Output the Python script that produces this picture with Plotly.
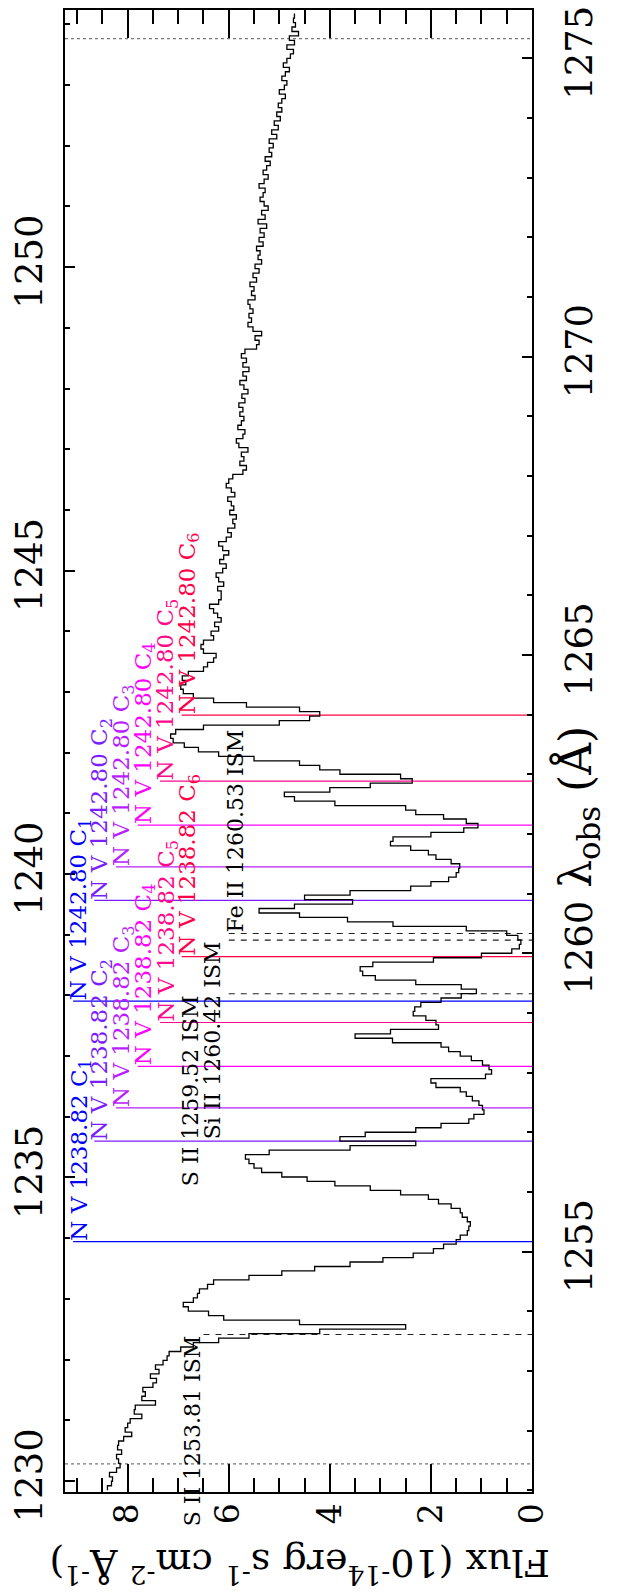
import numpy as np
import plotly.graph_objects as go

# ---------------- data ----------------
lam_start = 1251.0      # first bin edge (observed wavelength, A)
bin_width = 0.075       # A
flux = [
    8.40, 8.32, 8.30, 8.36, 8.22, 8.15, 8.18, 8.22, 8.12, 8.20,
    8.18, 8.08, 7.92, 8.05, 8.00, 7.95, 7.72, 7.87, 7.85, 7.45,
    7.72, 7.65, 7.70, 7.50, 7.43, 7.55, 7.38, 7.45, 7.30, 7.22,
    7.18, 6.95, 6.70, 6.20, 5.60, 4.20, 2.50, 4.60, 6.10, 6.40,
    6.80, 6.90, 6.70, 6.62, 6.58, 6.42, 6.30, 5.60, 4.95, 4.30,
    3.60, 2.95, 2.35, 1.95, 1.75, 1.50, 1.42, 1.28, 1.25, 1.22,
    1.28, 1.38, 1.42, 1.60, 1.85, 2.05, 2.60, 3.20, 3.90, 4.45,
    4.95, 5.35, 5.50, 5.60, 5.67, 5.20, 3.60, 2.30, 3.80, 3.30,
    2.30, 1.80, 1.25, 1.15, 0.95, 0.98, 1.05, 1.18, 1.30, 1.42,
    1.90, 2.00, 0.92, 0.80, 0.85, 0.98, 1.20, 1.42, 1.65, 1.80,
    2.76, 3.50, 2.80, 1.85, 1.90, 2.10, 2.35, 2.32, 2.20, 1.80,
    1.40, 1.10, 1.40, 2.30, 3.10, 3.35, 3.40, 3.15, 1.95, 1.00,
    0.40, 0.25, 0.22, 0.28, 0.50, 1.30, 2.75, 3.65, 4.60, 5.40,
    4.70, 3.55, 4.50, 3.60, 2.40, 2.00, 1.65, 1.50, 1.45, 1.43,
    1.60, 1.90, 2.05, 2.40, 2.80, 2.75, 2.00, 1.35, 1.07, 1.30,
    1.75, 2.30, 2.50, 3.90, 4.70, 4.90, 4.00, 3.20, 2.37, 2.60,
    3.80, 4.20, 4.60, 5.50, 6.20, 6.60, 6.88, 7.10, 7.15, 7.05,
    6.50, 5.00, 4.40, 4.20, 4.60, 5.65, 6.30, 6.70, 6.90, 6.95,
    6.85, 6.92, 6.80, 6.50, 6.42, 6.30, 6.25, 6.50, 6.55, 6.50,
    6.30, 6.35, 6.20, 6.28, 6.15, 6.22, 6.30, 6.38, 6.20, 6.15,
    6.15, 6.22, 6.10, 6.20, 6.25, 6.12, 6.05, 6.18, 6.10, 6.00,
    6.12, 6.20, 6.05, 5.95, 6.02, 5.88, 5.92, 5.85, 5.98, 5.90,
    5.95, 6.02, 5.88, 5.95, 6.05, 6.00, 5.92, 5.72, 5.65, 5.78,
    5.70, 5.75, 5.62, 5.80, 5.85, 5.72, 5.68, 5.82, 5.75, 5.70,
    5.78, 5.72, 5.80, 5.68, 5.74, 5.62, 5.70, 5.78, 5.65, 5.72,
    5.60, 5.72, 5.65, 5.75, 5.68, 5.45, 5.40, 5.48, 5.35, 5.52,
    5.62, 5.55, 5.60, 5.52, 5.58, 5.62, 5.48, 5.55, 5.50, 5.58,
    5.45, 5.52, 5.40, 5.48, 5.35, 5.42, 5.38, 5.45, 5.32, 5.40,
    5.30, 5.38, 5.25, 5.42, 5.28, 5.35, 5.22, 5.30, 5.38, 5.32,
    5.28, 5.40, 5.30, 5.22, 5.32, 5.25, 5.18, 5.28, 5.15, 5.20,
    5.12, 5.20, 5.05, 5.15, 5.02, 5.10, 4.98, 5.05, 4.95, 5.02,
    4.95, 4.88, 5.00, 4.90, 4.85, 4.95, 4.88, 4.80, 4.92, 4.85,
    4.78, 4.72, 4.85, 4.70, 4.80, 4.62, 4.75, 4.68, 4.72, 4.70,
]

z_sys = 0.0172                       # systemic redshift (rest-frame top axis)
obs_range = [1250.97, 1275.81]
flux_range = [9.24, 0.0]

nv_rest = [1238.82, 1242.80]
comp_z = [0.013195, 0.014554, 0.015004, 0.015567, 0.016160, 0.017050]
comp_colors = ["#0000FF", "#7A1EFF", "#B81EFF", "#FF00FF", "#FF0A8C", "#FF0048"]
comp_label_flux = [8.94, 8.52, 8.09, 7.66, 7.22, 6.79]

ism_ion = ["S II", "S II", "Si II", "Fe II"]
ism_rest = [1253.81, 1259.52, 1260.42, 1260.53]
ism_shift = -0.20
ism_label_flux = [6.70, 6.77, 6.33, 5.87]
ism_line_start = [6.50, 6.00, 6.00, 6.00]
ism_anchor = ["top", "top", "top", "bottom"]

dotted_lam = [1251.44, 1275.33]

obs_ticks = [1255, 1260, 1265, 1270, 1275]
rest_ticks = [1230, 1235, 1240, 1245, 1250]
flux_ticks = [0, 2, 4, 6, 8]

# ---------------- figure ----------------
FONT = "DejaVu Serif"
fig = go.Figure()

# dotted range markers
for lam in dotted_lam:
    fig.add_trace(go.Scatter(x=flux_range, y=[lam, lam], mode="lines",
                             line=dict(color="#777777", width=1.2, dash="dot"),
                             hoverinfo="skip", showlegend=False))

# N V component lines + labels
for rest in nv_rest:
    for i, z in enumerate(comp_z):
        lam = rest * (1 + z)
        fig.add_trace(go.Scatter(x=[comp_label_flux[i] + 0.14, 0.0], y=[lam, lam], mode="lines",
                                 line=dict(color=comp_colors[i], width=1.2),
                                 hoverinfo="skip", showlegend=False))
        fig.add_annotation(x=comp_label_flux[i], y=lam, xref="x", yref="y",
                           text=f"N V {rest:.2f} C<sub>{i+1}</sub>", textangle=-90,
                           xanchor="center", yanchor="bottom", showarrow=False, borderpad=0,
                           font=dict(family=FONT, size=23, color=comp_colors[i]))

# ISM lines + labels
for ion, rest, fl, ls, anc in zip(ism_ion, ism_rest, ism_label_flux, ism_line_start, ism_anchor):
    lam = rest + ism_shift
    fig.add_trace(go.Scatter(x=[ls, 0.0], y=[lam, lam], mode="lines",
                             line=dict(color="#222222", width=1.1, dash="6px,6px"),
                             hoverinfo="skip", showlegend=False))
    fig.add_annotation(x=fl, y=lam, xref="x", yref="y",
                       text=f"{ion} {rest:.2f} ISM", textangle=-90,
                       xanchor="center", yanchor=anc, showarrow=False, borderpad=0,
                       font=dict(family=FONT, size=22, color="black"))

# spectrum (step histogram)
edges = lam_start + bin_width * np.arange(len(flux) + 1)
fig.add_trace(go.Scatter(x=list(flux) + [flux[-1]], y=edges, mode="lines",
                         line=dict(color="black", width=1.3, shape="vh"),
                         hoverinfo="skip", showlegend=False))

# invisible trace to anchor rest-frame axis
fig.add_trace(go.Scatter(x=[None], y=[None], yaxis="y2", mode="markers", showlegend=False))

tickfont_big = dict(family=FONT, size=37, color="black")
fig.update_layout(
    width=621, height=1596,
    margin=dict(l=65, r=89, t=6, b=104),
    paper_bgcolor="white", plot_bgcolor="white",
    showlegend=False,
    xaxis=dict(range=flux_range, tickmode="array", tickvals=flux_ticks,
               ticks="inside", ticklen=28, tickwidth=2, tickcolor="black",
               minor=dict(tickmode="linear", tick0=0, dtick=0.5, ticks="inside",
                          ticklen=14, tickwidth=1.5, tickcolor="black"),
               showline=True, linewidth=2, linecolor="black", mirror="ticks",
               showgrid=False, zeroline=False, tickangle=-90,
               tickfont=dict(family=FONT, size=33, color="black"), ticklabelstandoff=-4),
    yaxis=dict(side="right", range=obs_range, tickmode="array", tickvals=obs_ticks,
               ticks="inside", ticklen=10, tickwidth=2, tickcolor="black",
               minor=dict(tickmode="linear", tick0=1250, dtick=1, ticks="inside",
                          ticklen=5, tickwidth=1.5, tickcolor="black"),
               showline=True, linewidth=2, linecolor="black",
               showgrid=False, zeroline=False, tickangle=-90,
               tickfont=tickfont_big, ticklabelstandoff=14),
    yaxis2=dict(overlaying="y", side="left",
                range=[obs_range[0] / (1 + z_sys), obs_range[1] / (1 + z_sys)],
                tickmode="array", tickvals=rest_ticks,
                ticks="inside", ticklen=10, tickwidth=2, tickcolor="black",
                minor=dict(tickmode="linear", tick0=1230, dtick=1, ticks="inside",
                           ticklen=5, tickwidth=1.5, tickcolor="black"),
                showline=True, linewidth=2, linecolor="black",
                showgrid=False, zeroline=False, tickangle=-90,
                tickfont=tickfont_big, ticklabelstandoff=6),
)

# axis titles
fig.add_annotation(x=1.0985, y=0.4623, xref="paper", yref="paper",
                   text="λ<sub>obs</sub> (Å)", textangle=-90, showarrow=False,
                   xanchor="center", yanchor="middle",
                   font=dict(family=FONT, size=44, color="black"))
fig.add_annotation(x=0.501, y=-0.0500, xref="paper", yref="paper",
                   text="Flux (10<sup>-14</sup>erg s<sup>-1</sup> cm<sup>-2</sup> Å<sup>-1</sup>)",
                   textangle=180, showarrow=False, xanchor="center", yanchor="middle",
                   font=dict(family=FONT, size=38, color="black"))

fig.write_html("out.html")
